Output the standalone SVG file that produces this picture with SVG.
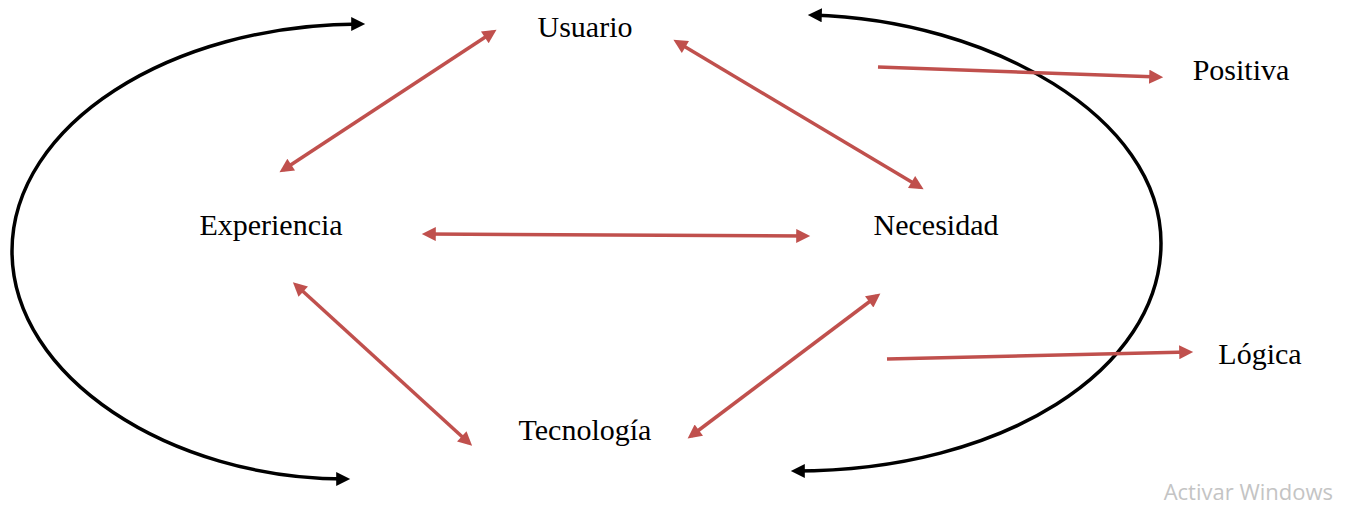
<svg xmlns="http://www.w3.org/2000/svg" width="1350" height="505" viewBox="0 0 1350 505">
<style>
.lbl{font-family:"Liberation Serif","Times New Roman",serif;font-size:30px;fill:#000}
.red{stroke:#c0504d;stroke-width:3.5;fill:none}
.blk{stroke:#000;stroke-width:3.5;fill:none}
.wm{font-family:"Open Sans","Noto Sans",sans-serif;font-size:22px;fill:#c4c4c4}
</style>
<defs>
<marker id="ra" viewBox="0 0 10 10" refX="7" refY="5" markerWidth="16" markerHeight="14" markerUnits="userSpaceOnUse" orient="auto-start-reverse">
<path d="M0,0 L10,5 L0,10 z" fill="#c0504d"/>
</marker>
<marker id="ba" viewBox="0 0 10 10" refX="7" refY="5" markerWidth="15" markerHeight="14" markerUnits="userSpaceOnUse" orient="auto-start-reverse">
<path d="M0,0 L10,5 L0,10 z" fill="#000"/>
</marker>
</defs>
<rect width="1350" height="505" fill="#fff"/>
<g id="connectors">
<path class="blk" d="M361,24 C170,24 12,125 12,251 C12,377 170,479 346,479" marker-start="url(#ba)" marker-end="url(#ba)"/>
<path class="blk" d="M812,15 C990,20 1161,117 1161,243 C1161,369 1004,471 795,471" marker-start="url(#ba)" marker-end="url(#ba)"/>
<line class="red" x1="493" y1="32" x2="283" y2="170" marker-start="url(#ra)" marker-end="url(#ra)"/>
<line class="red" x1="677" y1="42" x2="920" y2="187" marker-start="url(#ra)" marker-end="url(#ra)"/>
<line class="red" x1="426" y1="234" x2="806" y2="236" marker-start="url(#ra)" marker-end="url(#ra)"/>
<line class="red" x1="296" y1="285" x2="469" y2="443" marker-start="url(#ra)" marker-end="url(#ra)"/>
<line class="red" x1="877" y1="296" x2="691" y2="436" marker-start="url(#ra)" marker-end="url(#ra)"/>
<line class="red" x1="878" y1="67" x2="1159" y2="77" marker-end="url(#ra)"/>
<line class="red" x1="887" y1="359" x2="1189" y2="352" marker-end="url(#ra)"/>
</g>
<g id="usuario"><text class="lbl" x="585" y="37" text-anchor="middle">Usuario</text></g>
<g id="experiencia"><text class="lbl" x="271" y="235" text-anchor="middle">Experiencia</text></g>
<g id="necesidad"><text class="lbl" x="936" y="235" text-anchor="middle">Necesidad</text></g>
<g id="tecnologia"><text class="lbl" x="585" y="440" text-anchor="middle">Tecnología</text></g>
<g id="positiva"><text class="lbl" x="1241" y="80" text-anchor="middle">Positiva</text></g>
<g id="logica"><text class="lbl" x="1260" y="364" text-anchor="middle">Lógica</text></g>
<text class="wm" x="1333" y="500" text-anchor="end">Activar Windows</text>
</svg>
